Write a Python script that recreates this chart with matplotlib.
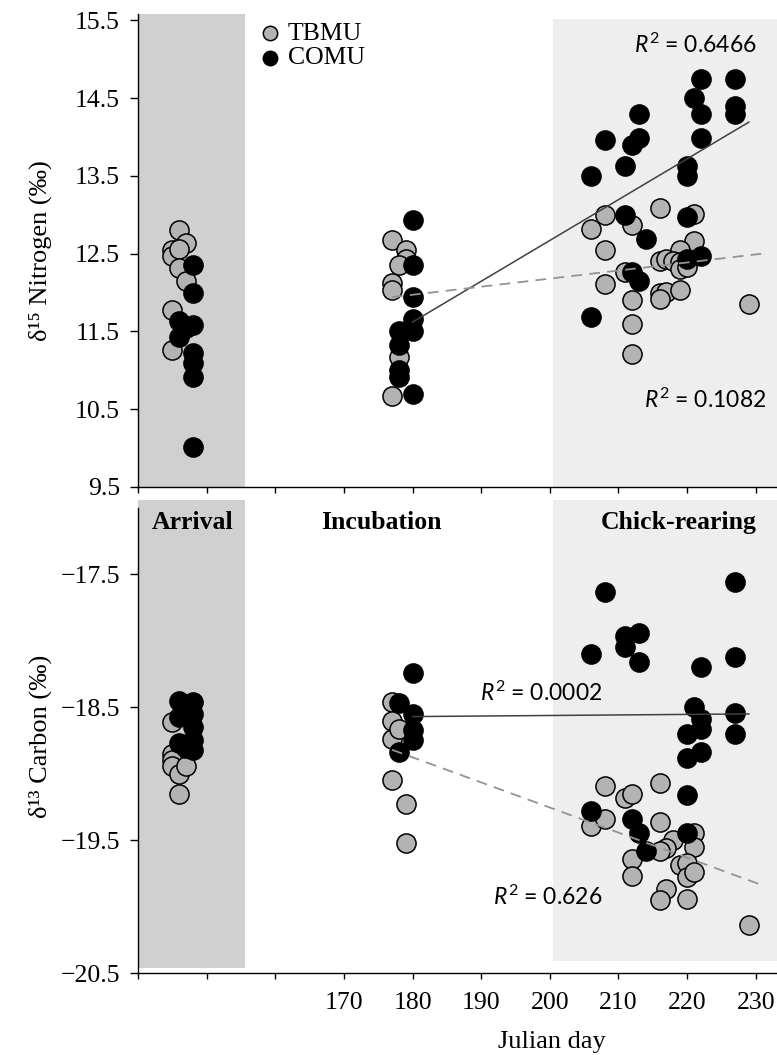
import numpy as np
import matplotlib
matplotlib.use("Agg")
import matplotlib.pyplot as plt

plt.rcParams["font.family"] = ["Liberation Serif", "DejaVu Serif"]
plt.rcParams["mathtext.fontset"] = "custom"
plt.rcParams["mathtext.rm"] = "Lato"
plt.rcParams["mathtext.it"] = "Lato:italic"

# ---- delta 15N (top panel) ----
tbmu_n_day = [146, 147, 145, 145, 146, 146, 147, 145, 145,
              177, 179, 179, 178, 177, 177, 178, 177,
              216, 208, 206, 212, 221, 221, 208, 219, 216, 217, 218, 219, 219,
              220, 211, 208, 212, 216, 217, 216, 219, 212, 212, 229]
tbmu_n = [12.80, 12.64, 12.54, 12.47, 12.56, 12.32, 12.15, 11.77, 11.26,
          12.68, 12.54, 12.43, 12.35, 12.12, 12.03, 11.17, 10.67,
          13.08, 12.99, 12.82, 12.87, 13.01, 12.66, 12.54, 12.54, 12.41, 12.43, 12.41, 12.39, 12.30,
          12.33, 12.26, 12.11, 11.91, 12.00, 12.01, 11.92, 12.03, 11.60, 11.21, 11.85]
comu_n_day = [148, 148, 148, 148, 148, 148, 148, 146, 146, 147,
              180, 180, 180, 180, 180, 180, 178, 178, 178, 178,
              222, 227, 221, 222, 227, 227, 213, 208, 213, 212, 222, 211, 206,
              220, 220, 211, 220, 214, 212, 213, 222, 220, 206]
comu_n = [12.35, 12.00, 11.58, 11.22, 11.09, 10.91, 10.02, 11.64, 11.43, 11.55,
          12.93, 12.35, 11.94, 11.66, 11.51, 10.69, 11.51, 11.32, 11.00, 10.92,
          14.74, 14.75, 14.50, 14.29, 14.40, 14.29, 14.29, 13.96, 13.99, 13.90, 13.98, 13.63, 13.50,
          13.63, 13.50, 12.99, 12.97, 12.69, 12.26, 12.15, 12.47, 12.43, 11.68]

# ---- delta 13C (bottom panel) ----
tbmu_c_day = [145, 145, 145, 145, 146, 146, 147,
              177, 177, 177, 177, 178, 179, 179,
              208, 211, 212, 216, 206, 208, 212, 212, 216, 218, 217, 216, 221,
              221, 219, 220, 220, 221, 217, 216, 220, 229]
tbmu_c = [-18.61, -18.85, -18.90, -18.94, -19.00, -19.15, -18.94,
          -18.46, -18.60, -18.74, -19.05, -18.66, -19.23, -19.52,
          -19.09, -19.18, -19.15, -19.07, -19.39, -19.34, -19.64, -19.77, -19.36, -19.50, -19.56, -19.58, -19.45,
          -19.55, -19.69, -19.67, -19.78, -19.74, -19.87, -19.95, -19.94, -20.14]
comu_c_day = [146, 146, 146, 148, 148, 148, 148, 148, 147,
              180, 180, 180, 180, 178, 178,
              227, 208, 211, 213, 211, 213, 206, 227, 222, 221, 222, 222, 220,
              227, 227, 220, 222, 220, 206, 212, 213, 214, 220]
comu_c = [-18.45, -18.57, -18.77, -18.46, -18.55, -18.65, -18.75, -18.82, -18.81,
          -18.24, -18.55, -18.67, -18.75, -18.47, -18.84,
          -17.56, -17.63, -17.96, -17.94, -18.05, -18.16, -18.10, -18.12, -18.20, -18.50, -18.59, -18.66, -18.70,
          -18.54, -18.70, -18.88, -18.84, -19.16, -19.28, -19.34, -19.45, -19.58, -19.45]

# trend lines (end points) and their R2
comu_n_trend_day, comu_n_trend = [180, 229], [11.62, 14.19]
tbmu_n_trend_day, tbmu_n_trend = [177, 231], [11.94, 12.50]
comu_c_trend_day, comu_c_trend = [180, 229], [-18.57, -18.55]
tbmu_c_trend_day, tbmu_c_trend = [177, 231], [-18.82, -19.84]
r2_labels = ["0.6466", "0.1082", "0.0002", "0.626"]

# breeding stages (julian day spans)
arrival_span = (140, 155.6)
chick_span = (200.5, 240)

GREY = "#b3b3b3"

fig = plt.figure(figsize=(7.77, 10.55), dpi=100)
ax1 = fig.add_axes([138 / 777, 1 - 487 / 1055, 639 / 777, 473 / 1055])
ax2 = fig.add_axes([138 / 777, 1 - 973 / 1055, 639 / 777, 473 / 1055])

for ax in (ax1, ax2):
    ax.set_xlim(140, 233.1)
    ax.spines["top"].set_visible(False)
    ax.spines["right"].set_visible(False)
    for s in ("left", "bottom"):
        ax.spines[s].set_linewidth(1.0)
    ax.set_xticks(np.arange(140, 231, 10))
    ax.tick_params(axis="y", direction="out", length=6, width=1.0, pad=7, labelsize=18.5)
    ax.tick_params(axis="x", direction="out", length=4.5, width=1.0, pad=9, labelsize=18.5)

ax1.set_ylim(9.5, 15.58)
ax1.set_yticks(np.arange(9.5, 15.6, 1.0))
ax1.set_yticklabels([f"{v:.1f}" for v in np.arange(9.5, 15.6, 1.0)])
ax1.set_xticklabels([])

ax2.set_ylim(-20.5, -16.94)
ax2.spines["left"].set_bounds(-20.5, -17.0)
ax2.set_yticks(np.arange(-20.5, -17.4, 1.0))
ax2.set_yticklabels([f"\u2212{abs(v):.1f}" for v in np.arange(-20.5, -17.4, 1.0)])
ax2.set_xticklabels(["" if d < 170 else str(d) for d in range(140, 231, 10)])

# shaded stages
ax1.axvspan(*arrival_span, color="#d0d0d0", lw=0, zorder=0)
ax1.axvspan(*chick_span, ymin=0, ymax=0.99, color="#eeeeee", lw=0, zorder=0)
ax2.axvspan(*arrival_span, ymin=0.01, ymax=1, color="#d0d0d0", lw=0, zorder=0)
ax2.axvspan(*chick_span, ymin=0.025, ymax=1, color="#eeeeee", lw=0, zorder=0)

ms = 190
ax1.scatter(tbmu_n_day, tbmu_n, s=ms, c=GREY, edgecolors="black", linewidths=1.1, zorder=3, label="TBMU")
ax1.scatter(comu_n_day, comu_n, s=ms, c="black", edgecolors="black", linewidths=1.1, zorder=3, label="COMU")
ax2.scatter(tbmu_c_day, tbmu_c, s=ms, c=GREY, edgecolors="black", linewidths=1.1, zorder=3)
ax2.scatter(comu_c_day, comu_c, s=ms, c="black", edgecolors="black", linewidths=1.1, zorder=3)

ax1.plot(comu_n_trend_day, comu_n_trend, color="#404040", lw=1.1, zorder=4)
ax1.plot(tbmu_n_trend_day, tbmu_n_trend, color="#939393", lw=1.3, ls=(0, (6, 4)), zorder=4)
ax2.plot(comu_c_trend_day, comu_c_trend, color="#404040", lw=1.1, zorder=4)
ax2.plot(tbmu_c_trend_day, tbmu_c_trend, color="#939393", lw=1.3, ls=(0, (6, 4)), zorder=4)

r2kw = dict(fontsize=16.5, family="Lato", va="center", zorder=5)
ax1.text(230.1, 15.18, f"$R^2$ = {r2_labels[0]}", ha="right", **r2kw)
ax1.text(231.6, 10.615, f"$R^2$ = {r2_labels[1]}", ha="right", **r2kw)
ax2.text(207.6, -18.39, f"$R^2$ = {r2_labels[2]}", ha="right", **r2kw)
ax2.text(207.7, -19.93, f"$R^2$ = {r2_labels[3]}", ha="right", **r2kw)

stage_kw = dict(fontsize=18.5, fontweight="bold", va="center")
ax2.text(147.9, -17.11, "Arrival", ha="center", **stage_kw)
ax2.text(175.5, -17.11, "Incubation", ha="center", **stage_kw)
ax2.text(230.1, -17.11, "Chick-rearing", ha="right", **stage_kw)

ax1.set_ylabel("\u03b4\u00b9\u2075 Nitrogen (\u2030)", fontsize=19)
ax2.set_ylabel("\u03b4\u00b9\u00b3 Carbon (\u2030)", fontsize=19)
ax1.yaxis.set_label_coords(-0.135, 0.5)
ax2.yaxis.set_label_coords(-0.135, 0.5)
fig.text(552 / 777, 1 - 1053 / 1055, "Julian day", fontsize=19, ha="center", va="bottom")

ax1.legend(loc="upper left", bbox_to_anchor=(257 / 777, 1 - 22 / 1055), bbox_transform=fig.transFigure,
           frameon=False, fontsize=18.5, markerscale=0.75, handlelength=1.0, handletextpad=0.2,
           borderpad=0, borderaxespad=0, labelspacing=0.05)

fig.savefig("out.png", dpi=100)
